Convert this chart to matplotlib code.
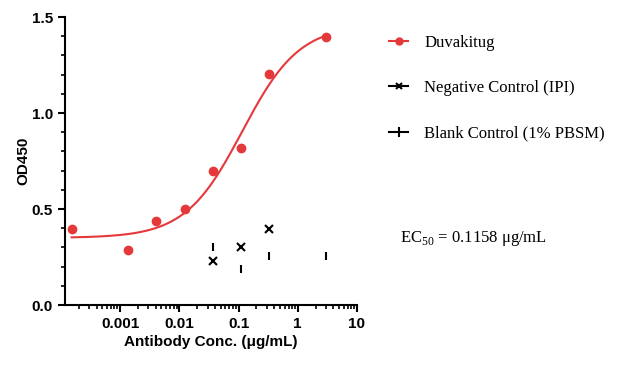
import numpy as np
import matplotlib.pyplot as plt
from matplotlib.lines import Line2D
from matplotlib.ticker import LogLocator, MultipleLocator, FixedLocator, FixedFormatter

plt.rcParams['font.family'] = ['Liberation Sans', 'DejaVu Sans']
plt.rcParams['mathtext.fontset'] = 'custom'
plt.rcParams['mathtext.rm'] = 'Liberation Serif'

# Duvakitug dilution series (ug/mL) and OD450
conc = [3.0, 0.333, 0.111, 0.037, 0.0123, 0.00412, 0.00137, 0.000152]
od = [1.396, 1.205, 0.819, 0.698, 0.502, 0.436, 0.285, 0.396]

# negative control (IPI)
neg_conc = [0.037, 0.111, 0.333]
neg_od = [0.229, 0.300, 0.394]

# blank control (1% PBSM)
blank_conc = [0.037, 0.111, 0.333, 3.0]
blank_od = [0.304, 0.186, 0.255, 0.255]

# 4PL fit parameters
bottom, top, ec50, hill = 0.35, 1.46, 0.1158, 0.9

red = '#E5383B'

fig = plt.figure(figsize=(6.24, 3.79), dpi=100)
ax = fig.add_axes([0.104, 0.195, 0.468, 0.76])

xfit = np.logspace(np.log10(min(conc)), np.log10(max(conc)), 300)
yfit = bottom + (top - bottom) / (1 + (ec50 / xfit) ** hill)
ax.plot(xfit, yfit, color=red, lw=1.5)
ax.plot(conc, od, 'o', color=red, ms=6)
ax.plot(neg_conc, neg_od, 'x', color='black', ms=6, mew=1.5)
ax.plot(blank_conc, blank_od, '|', color='black', ms=6, mew=1.5)

ax.set_xscale('log')
ax.set_xlim(1.17e-4, 10)
ax.set_ylim(0, 1.5)

ax.xaxis.set_major_locator(FixedLocator([0.001, 0.01, 0.1, 1, 10]))
ax.xaxis.set_major_formatter(FixedFormatter(['0.001', '0.01', '0.1', '1', '10']))
ax.xaxis.set_minor_locator(LogLocator(base=10, subs=np.arange(2, 10)))
ax.yaxis.set_major_locator(MultipleLocator(0.5))
ax.yaxis.set_minor_locator(MultipleLocator(0.1))
ax.yaxis.set_major_formatter(plt.FuncFormatter(lambda v, p: f'{v:.1f}'))

for s in ['top', 'right']:
    ax.spines[s].set_visible(False)
for s in ['left', 'bottom']:
    ax.spines[s].set_linewidth(1.5)
ax.tick_params(which='major', length=5, width=1.5, labelsize=11)
ax.tick_params(which='minor', length=3, width=1.2)
for lab in ax.get_xticklabels() + ax.get_yticklabels():
    lab.set_fontweight('bold')

ax.set_xlabel('Antibody Conc. (μg/mL)', fontsize=11, fontweight='bold', labelpad=3)
ax.set_ylabel('OD450', fontsize=11, fontweight='bold', labelpad=1)

handles = [
    Line2D([], [], color=red, marker='o', ms=5, lw=1.5),
    Line2D([], [], color='black', marker='x', ms=5, mew=1.5, lw=1.5),
    Line2D([], [], color='black', marker='|', ms=7, mew=1.5, lw=1.5),
]
labels = ['Duvakitug', 'Negative Control (IPI)', 'Blank Control (1% PBSM)']
fig.legend(handles, labels, loc='upper left', bbox_to_anchor=(0.6, 0.947),
           frameon=False, prop={'family': 'Liberation Serif', 'size': 12},
           handlelength=1.1, labelspacing=1.75, handletextpad=1.0)

fig.text(0.641, 0.37, r'EC$_{\mathrm{50}}$ = 0.1158 μg/mL', fontsize=12,
         family='Liberation Serif', va='center')

fig.savefig('out.png', dpi=100)
